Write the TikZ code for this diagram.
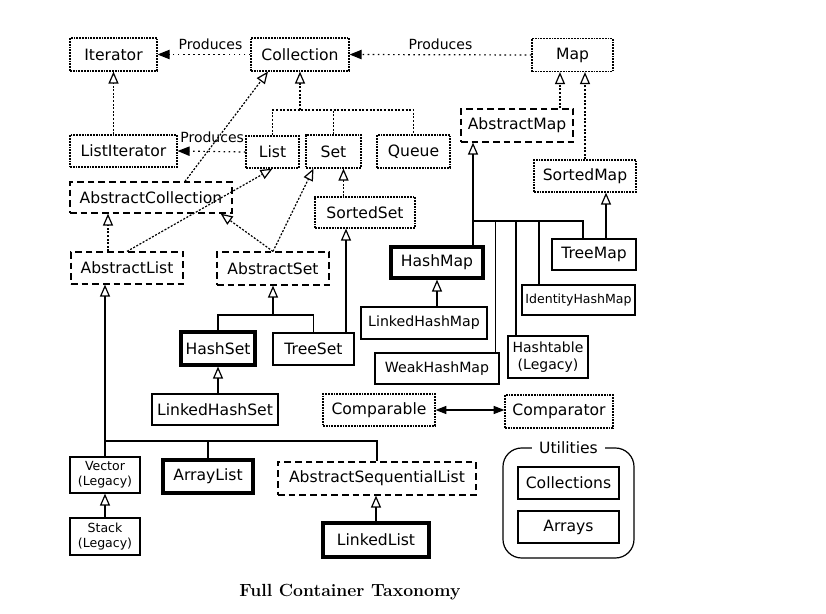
\documentclass[tikz,border=0pt]{standalone}
\usepackage{fontspec}
\newfontfamily\boxfont{DejaVu Sans}
\usetikzlibrary{arrows.meta,calc}
\begin{document}
\begin{tikzpicture}[x=0.75pt,y=-0.75pt,
  sz/.style 2 args={minimum width=#1*0.75pt, minimum height=#2*0.75pt},
  box/.style={draw, inner sep=0pt, line width=0.9pt, align=center,
    font=\boxfont\fontsize{11.7}{14}\selectfont},
  iface/.style={box, dash pattern=on 1.3pt off 0.8pt},
  abst/.style={box, dash pattern=on 5pt off 3pt},
  conc/.style={box},
  keybox/.style={box, line width=2.4pt},
  smallf/.style={font=\boxfont\fontsize{9.4}{11.5}\selectfont},
  midf/.style={font=\boxfont\fontsize{10.6}{13}\selectfont},
  lbl/.style={font=\boxfont\fontsize{10.5}{12}\selectfont, inner sep=1pt},
  plain/.style={line width=0.9pt},
  idot/.style={line width=0.9pt, dash pattern=on 1.5pt off 1.2pt},
  inh/.style={line width=0.9pt, -{Triangle[open, length=9pt, width=7.5pt]}},
  inhd/.style={inh, dash pattern=on 1.5pt off 1.2pt},
  prod/.style={line width=0.9pt, dash pattern=on 1.2pt off 2.6pt, -{Triangle[length=9pt, width=7pt]}},
  both/.style={line width=0.9pt, {Triangle[length=8pt, width=6pt]}-{Triangle[length=8pt, width=6pt]}}
]
\useasboundingbox (0,0) rectangle (826,614);
\fill[white] (0,0) rectangle (826,614);

% interfaces and classes
\node[iface, sz={87}{33}] (Iterator) at (113.5,54.5) {Iterator};
\node[iface, sz={98}{33}] (Collection) at (300,54.5) {Collection};
\node[iface, sz={81}{33}] (Map) at (572.5,55) {Map};
\node[iface, sz={107}{32}] (ListIterator) at (123.5,151) {ListIterator};
\node[iface, sz={53}{32}] (List) at (272.5,152) {List};
\node[iface, sz={55}{33}] (Set) at (333.5,151.5) {Set};
\node[iface, sz={73}{33}] (Queue) at (413.5,151.5) {Queue};
\node[abst, sz={112}{33}] (AbstractMap) at (517,125.5) {AbstractMap};
\node[iface, sz={102}{32}] (SortedMap) at (585,176) {SortedMap};
\node[abst, sz={162}{31}] (AbstractCollection) at (151,197.5) {AbstractCollection};
\node[iface, sz={100}{31}] (SortedSet) at (365,212.5) {SortedSet};
\node[abst, sz={112}{32}] (AbstractList) at (127,268) {AbstractList};
\node[abst, sz={112}{33}] (AbstractSet) at (273,268.5) {AbstractSet};
\node[keybox, sz={92}{31}] (HashMap) at (437,262.5) {HashMap};
\node[conc, sz={84}{31}] (TreeMap) at (594,254.5) {TreeMap};
\node[conc, smallf, sz={113}{30}] (IdentityHashMap) at (578.5,300) {IdentityHashMap};
\node[conc, midf, sz={126}{32}] (LinkedHashMap) at (424,323) {LinkedHashMap};
\node[keybox, sz={74}{33}] (HashSet) at (218,348.5) {HashSet};
\node[conc, sz={81}{32}] (TreeSet) at (313.5,349) {TreeSet};
\node[conc, midf, sz={124}{31}] (WeakHashMap) at (437,368.5) {WeakHashMap};
\node[conc, font=\boxfont\fontsize{10.5}{12.5}\selectfont, sz={80}{42}] (Hashtable) at (548,357) {Hashtable\\(Legacy)};
\node[conc, sz={126}{31}] (LinkedHashSet) at (215,409.5) {LinkedHashSet};
\node[iface, sz={112}{32}] (Comparable) at (379,410) {Comparable};
\node[iface, sz={108}{33}] (Comparator) at (559,411.5) {Comparator};
\node[conc, smallf, sz={70}{36}] (Vector) at (105,475) {Vector\\(Legacy)};
\node[keybox, sz={90}{33}] (ArrayList) at (208,476.5) {ArrayList};
\node[abst, sz={198}{33}] (AbstractSequentialList) at (377,478.5) {AbstractSequentialList};
\node[conc, smallf, sz={70}{37}] (Stack) at (105,536.5) {Stack\\(Legacy)};
\node[keybox, sz={106}{34}] (LinkedList) at (376,540) {LinkedList};

% utilities group
\node[draw, line width=0.9pt, rounded corners=14pt, sz={131}{110}] (Utilities) at (568.5,503) {};
\node[conc, sz={101}{32}] (Collections) at (568.5,483) {Collections};
\node[conc, sz={101}{32}] (Arrays) at (568.5,527) {Arrays};
\node[fill=white, inner xsep=5pt, inner ysep=1pt, font=\boxfont\fontsize{11.7}{14}\selectfont] (UtilLabel) at (Utilities.north) {Utilities};

% title
\node[font=\rmfamily\bfseries\fontsize{13.2}{15}\selectfont] (Title) at (350,592) {Full Container Taxonomy};

% produces
\draw[prod] (Collection.west) -- node[lbl, above=2pt, pos=0.43] (p1) {Produces} (Iterator.east);
\draw[prod] (Map.west) -- node[lbl, above=2pt, pos=0.5] (p2) {Produces} (Collection.east);
\draw[prod] (List.west) -- node[lbl, above=5.5pt, pos=0.49] (p3) {Produces} (ListIterator.east);

% interface hierarchy
\draw[inhd] (ListIterator.north -| Iterator.south) -- (Iterator.south);
\coordinate (cj) at (300,110);
\draw[inhd] (cj) -- (Collection.south);
\draw[idot] (List.north) |- (cj) -| (Queue.north);
\draw[idot] (Set.north) -- (Set.north |- cj);
\path ($(AbstractMap.north)+(43,0)$) coordinate (am1);
\draw[inhd] (am1) -- (am1 |- Map.south);
\draw[inhd] (SortedMap.north) -- (SortedMap.north |- Map.south);
\draw[inhd] ($(AbstractCollection.north)+(34,0)$) -- ($(Collection.south)+(-32,0)$);
\path ($(AbstractList.north)+(-19,0)$) coordinate (al1);
\draw[inhd] (al1) -- (al1 |- AbstractCollection.south);
\draw[inhd] (AbstractList.north) -- (List.south);
\draw[inhd] (AbstractSet.north) -- ($(AbstractCollection.south east)+(-12,0)$);
\draw[inhd] (AbstractSet.north) -- ($(Set.south)+(-20,0)$);
\path ($(Set.south)+(10,0)$) coordinate (s1);
\draw[inhd] (s1 |- SortedSet.north) -- (s1);

% set classes
\path ($(SortedSet.south)+(-19,0)$) coordinate (s2);
\draw[inh] (s2 |- TreeSet.north) -- (s2);
\coordinate (sj) at (273,315);
\draw[inh] (sj) -- (AbstractSet.south);
\draw[plain] (HashSet.north) |- (sj) -| (TreeSet.north);
\draw[inh] (LinkedHashSet.north -| HashSet.south) -- (HashSet.south);

% map classes
\coordinate (mj) at (473,221);
\coordinate (mw) at (495.5,221);
\coordinate (mh) at (516,221);
\coordinate (mi) at (539,221);
\coordinate (mt) at (583,221);
\draw[inh] (HashMap.north -| mj) -- (AbstractMap.south -| mj);
\draw[plain] (mj) -- (mt) -- (TreeMap.north -| mt);
\draw[plain] (mw) -- (WeakHashMap.north -| mw);
\draw[plain] (mh) -- (Hashtable.north -| mh);
\draw[plain] (mi) -- (IdentityHashMap.north -| mi);
\path ($(TreeMap.north)+(12,0)$) coordinate (t1);
\draw[inh] (t1) -- (t1 |- SortedMap.south);
\draw[inh] (LinkedHashMap.north -| HashMap.south) -- (HashMap.south);

% list classes
\coordinate (lj) at (105,441);
\draw[inh] (Vector.north) -- (Vector.north |- AbstractList.south);
\draw[plain] (lj) -| (AbstractSequentialList.north);
\draw[plain] (ArrayList.north) -- (ArrayList.north |- lj);
\draw[inh] (Stack.north) -- (Vector.south);
\draw[inh] (LinkedList.north) -- (LinkedList.north |- AbstractSequentialList.south);

% comparable / comparator
\draw[both] (Comparable.east) -- (Comparable.east -| Comparator.west);
\end{tikzpicture}
\end{document}
